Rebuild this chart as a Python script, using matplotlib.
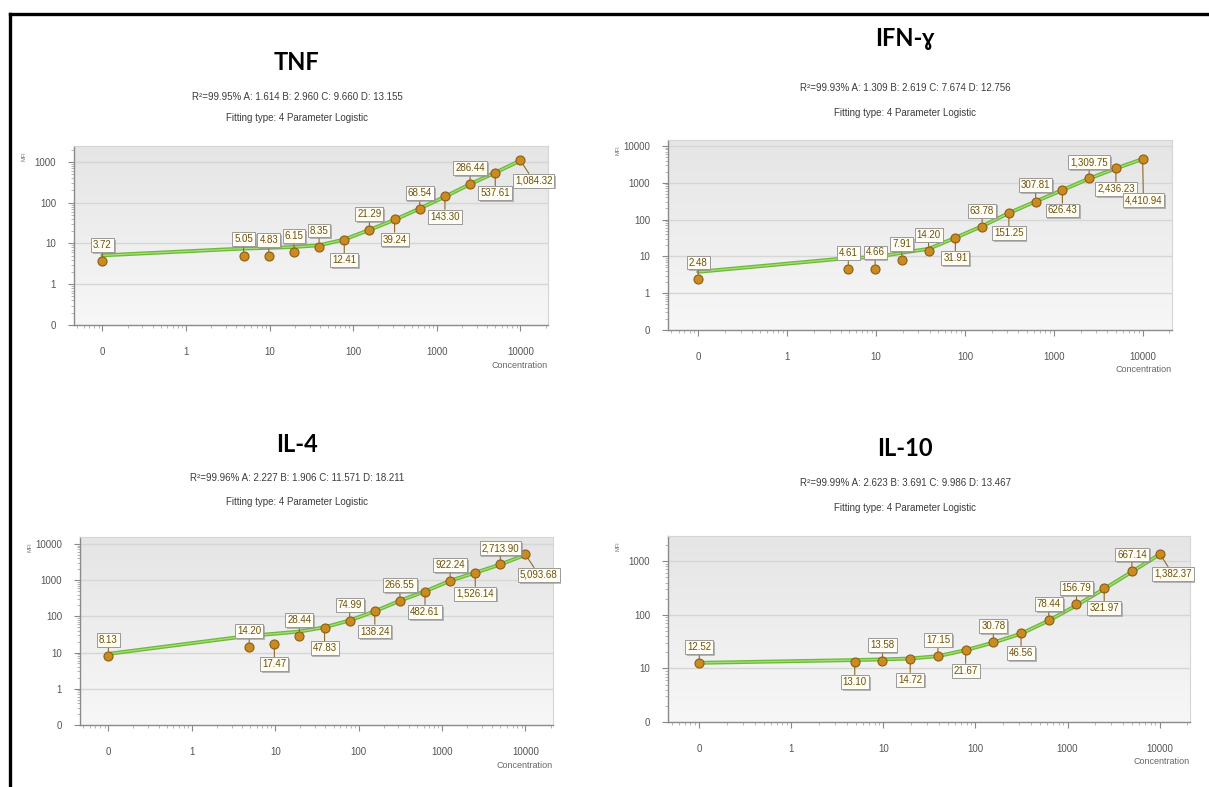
import numpy as np
import matplotlib
matplotlib.use("Agg")
import matplotlib.pyplot as plt
from matplotlib import patheffects as pe
from matplotlib.lines import Line2D
from matplotlib.ticker import LogLocator, NullFormatter

# Standard curve: two-fold dilution series (0 = blank)
concentration = [0, 4.88, 9.77, 19.53, 39.06, 78.13, 156.25, 312.5, 625, 1250, 2500, 5000, 10000]

panels = ["TNF", "IFN-ɣ", "IL-4", "IL-10"]

fit_params = {
    "TNF": "R²=99.95% A: 1.614 B: 2.960 C: 9.660 D: 13.155",
    "IFN-ɣ": "R²=99.93% A: 1.309 B: 2.619 C: 7.674 D: 12.756",
    "IL-4": "R²=99.96% A: 2.227 B: 1.906 C: 11.571 D: 18.211",
    "IL-10": "R²=99.99% A: 2.623 B: 3.691 C: 9.986 D: 13.467",
}

# Measured signal at each standard
tnf_signal = [3.72, 5.05, 4.83, 6.15, 8.35, 12.41, 21.29, 39.24, 68.54, 143.30, 286.44, 537.61, 1084.32]
ifng_signal = [2.48, 4.61, 4.66, 7.91, 14.20, 31.91, 63.78, 151.25, 307.81, 626.43, 1309.75, 2436.23, 4410.94]
il4_signal = [8.13, 14.20, 17.47, 28.44, 47.83, 74.99, 138.24, 266.55, 482.61, 922.24, 1526.14, 2713.90, 5093.68]
il10_signal = [12.52, 13.10, 13.58, 14.72, 17.15, 21.67, 30.78, 46.56, 78.44, 156.79, 321.97, 667.14, 1382.37]

# Fitted curve evaluated at each standard
tnf_fit = [5.1, 7.5, 7.8, 8.2, 9.0, 12.5, 21.5, 38, 72, 140, 285, 545, 1080]
ifng_fit = [3.8, 9.0, 9.5, 12.5, 16, 32, 66, 150, 310, 630, 1300, 2450, 4400]
il4_fit = [9.2, 29, 33, 38, 50, 77, 138, 270, 490, 960, 1600, 2700, 5000]
il10_fit = [12.7, 14.3, 14.7, 15.3, 16.9, 21.9, 30.3, 44.4, 78, 150, 305, 635, 1340]

x_ticks = [0.1, 1, 10, 100, 1000, 10000]
x_tick_labels = ["0", "1", "10", "100", "1000", "10000"]

signals = {"TNF": tnf_signal, "IFN-ɣ": ifng_signal, "IL-4": il4_signal, "IL-10": il10_signal}
fits = {"TNF": tnf_fit, "IFN-ɣ": ifng_fit, "IL-4": il4_fit, "IL-10": il10_fit}

# layout / style (pixels in a 1209 x 787 canvas)
W, H = 1209, 787
layout = {
    # left, right, top, bottom of plot area ; title position ; subtitle rows
    "TNF": dict(box=(74, 548, 146, 325), title=(297, 62), sub=(97, 118)),
    "IFN-ɣ": dict(box=(668, 1172, 140, 330), title=(905, 38), sub=(88, 113)),
    "IL-4": dict(box=(80, 553, 537, 725), title=(297, 445), sub=(478, 502)),
    "IL-10": dict(box=(668, 1190, 536, 722), title=(905, 448), sub=(483, 508)),
}
y_ranges = {
    "TNF": (0.1, 10 ** 3.39, [0.1, 1, 10, 100, 1000]),
    "IFN-ɣ": (0.1, 10 ** 4.16, [0.1, 1, 10, 100, 1000, 10000]),
    "IL-4": (0.1, 10 ** 4.19, [0.1, 1, 10, 100, 1000, 10000]),
    "IL-10": (1, 10 ** 3.47, [1, 10, 100, 1000]),
}
# label placement: a = above, b = below, r = below right, d = far below
placement = {
    "TNF": "aaaaababababr",
    "IFN-ɣ": "aaaaababababd",
    "IL-4": "aabababababar",
    "IL-10": "ababababaabar",
}
# offset (points), horizontal and vertical alignment of each placement
label_style = {
    "a": ((0, 8), "center", "bottom"),
    "b": ((0, -11), "center", "top"),
    "r": ((-4, -11), "left", "top"),
    "d": ((-13, -26), "left", "top"),
}

FONT = "Liberation Sans"
TICK_COLOR = "#555555"
LABEL_TEXT = "#6b5210"
MARKER_FC = "#c98b22"
MARKER_EC = "#8c5d12"
LINE_GREEN = "#6cbb38"
LINE_LIGHT = "#b0e082"

fig = plt.figure(figsize=(W / 100, H / 100), dpi=100)
fig.patch.set_facecolor("white")

# frame lines on top and left of the canvas
fig.add_artist(Line2D([10 / W, 1.0], [1 - 14 / H, 1 - 14 / H], color="black", lw=2.4,
                      transform=fig.transFigure))
fig.add_artist(Line2D([10 / W, 10 / W], [1 - 14 / H, 0.0], color="black", lw=2.4,
                      transform=fig.transFigure))

gradient = np.linspace(0, 1, 256).reshape(-1, 1)
bg_cmap = matplotlib.colors.LinearSegmentedColormap.from_list("bg", ["#f7f7f7", "#e5e5e5"])

x_plot = np.where(np.array(concentration) == 0, 0.1, np.array(concentration, dtype=float))

for name in panels:
    lay = layout[name]
    l, r, t, b = lay["box"]
    ax = fig.add_axes([l / W, 1 - b / H, (r - l) / W, (b - t) / H])
    ax.set_xscale("log")
    ax.set_yscale("log")
    ax.set_xlim(10 ** -1.34, 10 ** 4.33)
    y0, y1, yt = y_ranges[name]
    ax.set_ylim(y0, y1)

    ax.imshow(gradient, extent=(0, 1, 1, 0), transform=ax.transAxes, cmap=bg_cmap,
              aspect="auto", zorder=0)
    ax.set_facecolor("#eeeeee")

    for yv in yt[1:]:
        ax.axhline(yv, color="#d6d6d6", lw=1.0, zorder=1)

    ax.set_xticks(x_ticks)
    ax.set_xticklabels(x_tick_labels)
    ax.set_yticks(yt)
    ax.set_yticklabels(["0"] + [f"{v:g}" for v in yt[1:]])
    ax.xaxis.set_minor_locator(LogLocator(base=10, subs=np.arange(2, 10)))
    ax.yaxis.set_minor_locator(LogLocator(base=10, subs=np.arange(2, 10)))
    ax.xaxis.set_minor_formatter(NullFormatter())
    ax.yaxis.set_minor_formatter(NullFormatter())
    ax.tick_params(axis="x", which="major", length=4, width=0.8, color="#888888",
                   labelsize=7, labelcolor=TICK_COLOR, pad=12)
    ax.tick_params(axis="y", which="major", length=4, width=0.8, color="#888888",
                   labelsize=7, labelcolor=TICK_COLOR, pad=9)
    ax.tick_params(axis="both", which="minor", length=2, width=0.6, color="#aaaaaa")
    for lab in ax.get_xticklabels() + ax.get_yticklabels():
        lab.set_fontfamily(FONT)

    for side in ("top", "right"):
        ax.spines[side].set_color("#d5d5d5")
        ax.spines[side].set_linewidth(0.8)
    for side in ("left", "bottom"):
        ax.spines[side].set_color("#8a8a8a")
        ax.spines[side].set_linewidth(1.0)

    # fitted curve
    ax.plot(x_plot, fits[name], color=LINE_GREEN, lw=2.8, zorder=3, solid_capstyle="round")
    ax.plot(x_plot, fits[name], color=LINE_LIGHT, lw=0.9, zorder=3, alpha=0.9)

    # measured standards
    sig = signals[name]
    ax.plot(x_plot, sig, ls="none", marker="o", ms=6.5, mfc=MARKER_FC, mec=MARKER_EC,
            mew=0.8, zorder=5)

    for xv, yv, pos in zip(x_plot, sig, placement[name]):
        off, ha, va = label_style[pos]
        ann = ax.annotate(f"{yv:,.2f}", xy=(xv, yv), xytext=off, textcoords="offset points",
                          ha=ha, va=va, fontsize=7, family=FONT, color=LABEL_TEXT,
                          zorder=6, annotation_clip=False,
                          bbox=dict(boxstyle="square,pad=0.2", fc="#fffdf4", ec="#9a9a9a", lw=0.7),
                          arrowprops=dict(arrowstyle="-", color="#8c6a2a", lw=0.8,
                                          shrinkA=0, shrinkB=3))
        ann.get_bbox_patch().set_path_effects(
            [pe.withSimplePatchShadow(offset=(1.3, -1.3), shadow_rgbFace="#8f8f8f", alpha=0.6)])

    # headings
    tx, ty = lay["title"]
    fig.text(tx / W, 1 - ty / H, name, ha="center", va="center", fontsize=17,
             fontweight="bold", family=["Lato", "DejaVu Sans"], color="black")
    s1, s2 = lay["sub"]
    fig.text(tx / W, 1 - s1 / H, fit_params[name], ha="center", va="center", fontsize=7,
             family=FONT, color="#3c3c3c")
    fig.text(tx / W, 1 - s2 / H, "Fitting type: 4 Parameter Logistic", ha="center",
             va="center", fontsize=7, family=FONT, color="#3c3c3c")

    # axis captions
    fig.text(r / W, 1 - (b + 40) / H, "Concentration", ha="right", va="center",
             fontsize=6.5, family=FONT, color="#666666")
    fig.text((l - 50) / W, 1 - (t + 10) / H, "MFI", ha="center", va="center",
             fontsize=4, family=FONT, color="#777777", rotation=90)

fig.savefig("out.png", dpi=100, facecolor="white")
